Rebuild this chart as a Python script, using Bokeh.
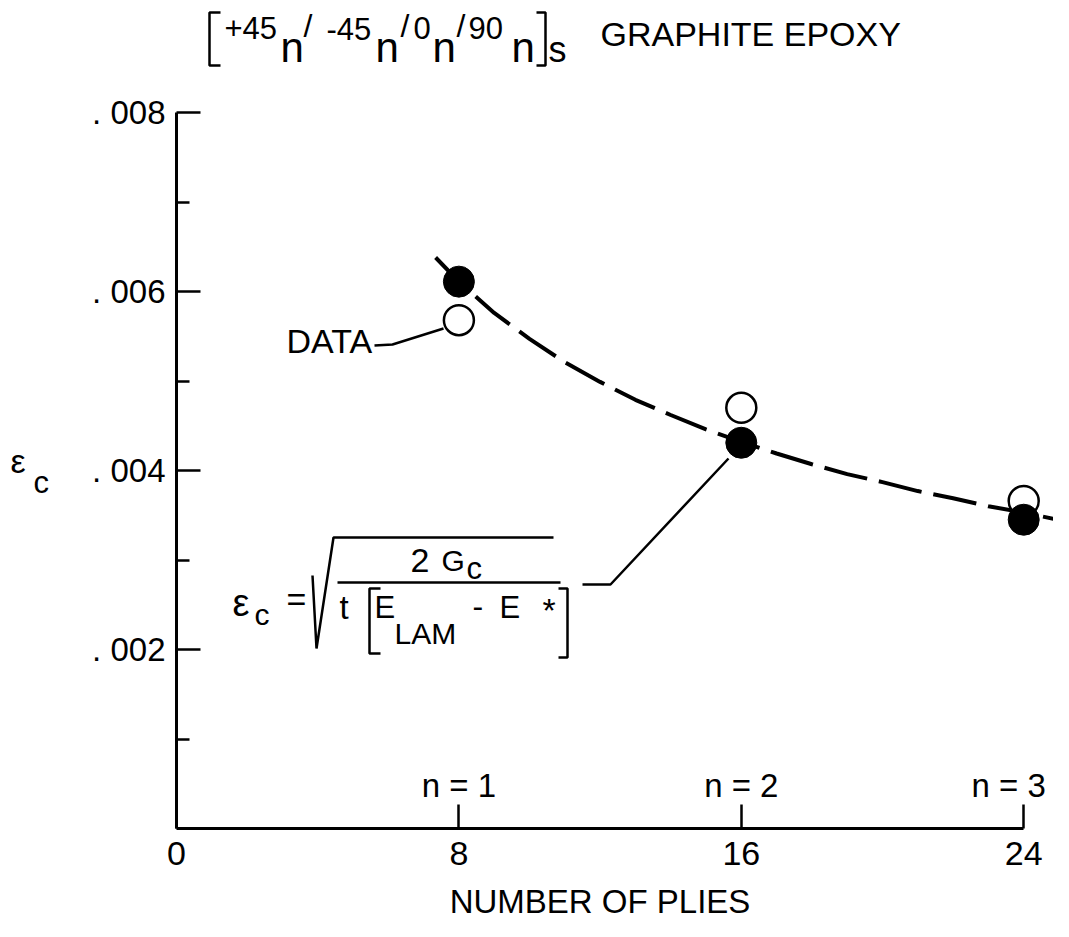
from bokeh.plotting import figure
from bokeh.models import FixedTicker, Label, Range1d, ColumnDataSource
from bokeh.core.properties import value
from bokeh.embed import file_html
from bokeh.resources import INLINE

# ---------------- data ----------------
plies = [8, 16, 24]
n_labels = ["n = 1", "n = 2", "n = 3"]
eps_predicted = [0.00611, 0.00431, 0.00345]   # filled circles
eps_data = [0.00568, 0.00470, 0.00366]        # open circles (DATA)
curve_plies = [7.34, 8, 9, 10, 11, 12, 13, 14, 15, 16, 17, 18, 19, 20,
               21, 22, 23, 24, 25.2]
curve_eps = [0.00638, 0.00611, 0.00576, 0.00547, 0.00521, 0.00499,
             0.00479, 0.00462, 0.00446, 0.00432, 0.00419, 0.00407,
             0.00396, 0.00387, 0.00377, 0.00369, 0.00360, 0.00353,
             0.00343]
x_ticks = [0, 8, 16, 24]
y_ticks = [0.002, 0.004, 0.006, 0.008]
y_minor_ticks = [0.001, 0.003, 0.005, 0.007]
y_tick_labels = [". 002", ". 004", ". 006", ". 008"]
x_label = "NUMBER OF PLIES"

# ---------------- layout helpers ----------------
FONT = "Liberation Sans"
PX_PER_X = 35.3
PX_PER_Y = 89500.0
X0, Y0 = 176, 828          # pixel position of the origin
W, H = 1053, 921


def X(px):
    return (px - X0) / PX_PER_X


def Y(py):
    return (Y0 - py) / PX_PER_Y


p = figure(width=W, height=H,
           x_range=Range1d(X(0), X(W)), y_range=Range1d(Y(H), Y(0)),
           output_backend="svg", toolbar_location=None,
           min_border_left=0, min_border_right=0, min_border_top=0,
           min_border_bottom=0)
p.outline_line_color = None
p.grid.visible = False
p.background_fill_color = "white"
p.border_fill_color = "white"

# x axis
xa = p.xaxis[0]
xa.fixed_location = 0
xa.ticker = FixedTicker(ticks=x_ticks)
xa.bounds = (0, 24)
xa.axis_line_width = 3
xa.major_tick_in = 24
xa.major_tick_out = 0
xa.major_tick_line_width = 2.5
xa.minor_tick_in = 0
xa.minor_tick_out = 0
xa.major_label_text_font = FONT
xa.major_label_text_font_size = "34px"
xa.major_label_text_color = "black"
xa.major_label_standoff = 13
xa.axis_label = x_label
xa.axis_label_text_font = FONT
xa.axis_label_text_font_style = "normal"
xa.axis_label_text_font_size = "33px"
xa.axis_label_text_color = "black"
xa.axis_label_standoff = 15

# y axis
ya = p.yaxis[0]
ya.fixed_location = 0
ya.ticker = FixedTicker(ticks=y_ticks, minor_ticks=y_minor_ticks)
ya.bounds = (0, 0.008)
ya.axis_line_width = 3
ya.major_tick_in = 24
ya.major_tick_out = 0
ya.major_tick_line_width = 2.5
ya.minor_tick_in = 13
ya.minor_tick_out = 0
ya.minor_tick_line_width = 2.5
ya.major_label_overrides = dict(zip(y_ticks, y_tick_labels))
ya.major_label_text_font = FONT
ya.major_label_text_font_size = "33px"
ya.major_label_text_color = "black"
ya.major_label_standoff = 11

# curve and points
p.line(curve_plies, curve_eps, line_color="black", line_width=4,
       line_dash="44 12")
p.scatter(plies, eps_data, size=30, marker="circle", fill_color="white",
          line_color="black", line_width=2.5)
p.scatter(plies, eps_predicted, size=31, marker="circle",
          fill_color="black", line_color="black")

# n = labels above the ticks
src = ColumnDataSource(dict(x=plies, y=[Y(785)] * 3, t=n_labels,
                            off=[0, 0, -15]))
p.text(x="x", y="y", text="t", source=src, x_offset="off",
       text_font=value(FONT), text_font_size="33px", text_align="center",
       text_baseline="middle", text_color="black")


def lines(pts, w=2.5):
    p.line([X(a) for a, b in pts], [Y(b) for a, b in pts],
           line_color="black", line_width=w)


def label(t, px, py, size, align="left"):
    p.add_layout(Label(x=X(px), y=Y(py), text=t, text_font=FONT,
                       text_font_size=f"{size}px", text_align=align,
                       text_baseline="middle", text_color="black"))


# title  [+45n/-45n/0n/90n]s GRAPHITE EPOXY
lines([(220, 12), (209, 12), (209, 65), (220, 65)])
for t, px, py, s in [("+45", 224, 27, 31), ("n", 280, 47, 42),
                     ("/", 303, 25, 32), ("-45", 326, 28, 31),
                     ("n", 375, 47, 42), ("/", 400, 25, 32),
                     ("0", 413, 27, 31), ("n", 432, 47, 42),
                     ("/", 456, 25, 32), ("90", 468, 27, 31),
                     ("n", 511, 47, 42), ("s", 548, 49, 36)]:
    label(t, px, py, s)
lines([(536, 12), (545, 12), (545, 65), (536, 65)])
label("GRAPHITE EPOXY", 600, 33, 34)

# y axis label
label("ε", 10, 460, 34)
label("c", 33, 482, 31)

# DATA label with leader
label("DATA", 286, 340, 34)
lines([(374, 345), (392, 344), (443, 328)])

# formula
label("ε", 232, 602, 38)
label("c", 254, 614, 30)
label("=", 286, 598, 34)
lines([(312, 575), (316, 648), (333, 537), (553, 537)])
label("2", 410, 560, 34)
label("G", 441, 560, 30)
label("c", 466, 568, 31)
lines([(337, 582), (560, 582)])
label("t", 339, 607, 33)
lines([(380, 588), (369, 588), (369, 653), (380, 653)])
label("E", 374, 607, 31)
label("LAM", 394, 633, 30)
label("-", 472, 605, 32)
label("E", 499, 607, 31)
label("*", 542, 609, 34)
lines([(558, 588), (567, 588), (567, 657), (558, 657)])
lines([(582, 584), (610, 584), (728, 458)])

open("out.html", "w").write(file_html(p, INLINE))
